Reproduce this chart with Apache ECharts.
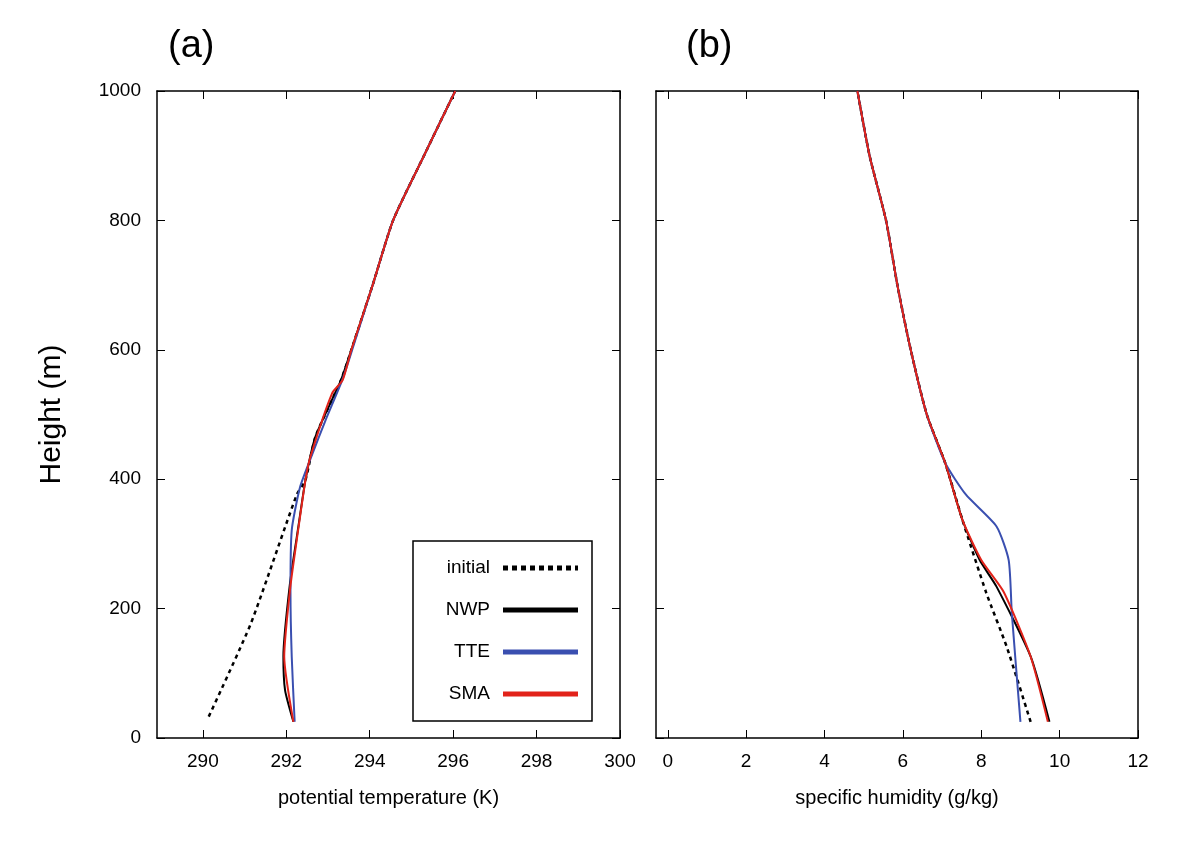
<!DOCTYPE html>
<html style="height: 100%">
<head>
<meta charset="utf-8">
<script src="https://cdn.jsdelivr.net/npm/echarts@6/dist/echarts.min.js"></script>
</head>
<body style="height: 100%; margin: 0; background: #fff">
<div id="container" style="width: 1200px; height: 857px"></div>
<script type="text/javascript">
// heights (m) for each profile, paired with values
var thInitH = [33, 177, 376, 399, 466, 553, 600, 700, 800, 900, 1000];
var thInit  = [290.14, 291.15, 292.25, 292.46, 292.7, 293.31, 293.56, 294.07, 294.56, 295.3, 296.05];
var thNwpH = [25, 74, 126, 240, 327, 399, 466, 553, 600, 700, 800, 900, 1000];
var thNwp  = [292.17, 291.97, 291.93, 292.09, 292.29, 292.46, 292.7, 293.31, 293.56, 294.07, 294.56, 295.3, 296.05];
var thTteH = [25, 126, 225, 321, 388, 435, 491, 553, 600, 700, 800, 900, 1000];
var thTte  = [292.2, 292.13, 292.1, 292.13, 292.33, 292.6, 292.94, 293.34, 293.58, 294.07, 294.56, 295.3, 296.05];
var thSmaH = [25, 126, 230, 306, 399, 435, 533, 553, 600, 700, 800, 900, 1000];
var thSma  = [292.17, 291.95, 292.09, 292.25, 292.46, 292.58, 293.1, 293.35, 293.56, 294.07, 294.56, 295.3, 296.05];

var qInitH = [25, 141, 224, 337, 425, 500, 600, 700, 800, 900, 1000];
var qInit  = [9.26, 8.65, 8.13, 7.52, 7.08, 6.61, 6.2, 5.86, 5.57, 5.15, 4.84];
var qNwpH = [25, 126, 234, 275, 337, 425, 500, 600, 700, 800, 900, 1000];
var qNwp  = [9.74, 9.26, 8.39, 7.96, 7.52, 7.08, 6.61, 6.2, 5.86, 5.57, 5.15, 4.84];
var qTteH = [25, 193, 275, 327, 376, 425, 500, 600, 700, 800, 900, 1000];
var qTte  = [9.0, 8.78, 8.70, 8.39, 7.61, 7.08, 6.61, 6.2, 5.86, 5.57, 5.15, 4.84];
var qSmaH = [25, 126, 226, 275, 337, 425, 500, 600, 700, 800, 900, 1000];
var qSma  = [9.7, 9.26, 8.57, 8.0, 7.52, 7.08, 6.61, 6.2, 5.86, 5.57, 5.15, 4.84];

var thTicks = [290, 292, 294, 296, 298, 300];
var qTicks = [0, 2, 4, 6, 8, 10, 12];

var names = ['initial', 'NWP', 'TTE', 'SMA'];
var colors = ['#000000', '#000000', '#3a4fb0', '#e2231a'];

function pairs(xs, hs) { return xs.map(function (v, i) { return [v, hs[i]]; }); }

var dom = document.getElementById('container');
var myChart = echarts.init(dom);

var font = { color: '#000', fontFamily: 'Liberation Sans', fontSize: 19 };
function xAx(idx, min, max, ticks, name) {
    return [{
        type: 'value', gridIndex: idx, min: min, max: max,
        name: name, nameLocation: 'middle', nameGap: 50,
        nameTextStyle: { color: '#000', fontFamily: 'Liberation Sans', fontSize: 20 },
        axisLine: { onZero: false, lineStyle: { color: '#000', width: 1.5 } },
        axisTick: { inside: true, length: 8, customValues: ticks, lineStyle: { color: '#000' } },
        axisLabel: Object.assign({ margin: 14, customValues: ticks }, font),
        splitLine: { show: false }
    }, {
        type: 'value', gridIndex: idx, position: 'top', min: min, max: max,
        axisLine: { onZero: false, lineStyle: { color: '#000', width: 1.5 } },
        axisTick: { inside: true, length: 8, customValues: ticks, lineStyle: { color: '#000' } },
        axisLabel: { show: false }, splitLine: { show: false }
    }];
}
function yAx(idx) {
    return [{
        type: 'value', gridIndex: idx, min: 0, max: 1000, interval: 200,
        name: idx === 0 ? 'Height (m)' : '', nameLocation: 'middle', nameGap: 90,
        nameTextStyle: { color: '#000', fontFamily: 'Liberation Sans', fontSize: 30 },
        axisLine: { onZero: false, lineStyle: { color: '#000', width: 1.5 } },
        axisTick: { inside: true, length: 8, lineStyle: { color: '#000' } },
        axisLabel: Object.assign({ show: idx === 0, margin: 16, formatter: function (v) { return String(v); } }, font),
        splitLine: { show: false }
    }, {
        type: 'value', gridIndex: idx, position: 'right', min: 0, max: 1000, interval: 200,
        axisLine: { onZero: false, lineStyle: { color: '#000', width: 1.5 } },
        axisTick: { inside: true, length: 8, lineStyle: { color: '#000' } },
        axisLabel: { show: false }, splitLine: { show: false }
    }];
}

var data = [
    [pairs(thInit, thInitH), pairs(thNwp, thNwpH), pairs(thTte, thTteH), pairs(thSma, thSmaH)],
    [pairs(qInit, qInitH), pairs(qNwp, qNwpH), pairs(qTte, qTteH), pairs(qSma, qSmaH)]
];
var series = [];
[0, 1].forEach(function (g) {
    names.forEach(function (n, i) {
        series.push({
            name: n, type: 'line', xAxisIndex: g * 2, yAxisIndex: g * 2,
            data: data[g][i], showSymbol: false, animation: false, smooth: 0.2,
            lineStyle: { color: colors[i], width: i === 0 ? 2.5 : 2, type: i === 0 ? [4, 4] : 'solid' },
            z: i === 0 ? 2 : 3 + i
        });
    });
});

// hand-drawn legend box inside panel (a)
var legendEls = [{
    type: 'rect', shape: { x: 413, y: 541, width: 179, height: 180 },
    style: { fill: '#fff', stroke: '#000', lineWidth: 1.5 }, z: 100
}];
names.forEach(function (n, i) {
    var y = 568 + i * 42;
    legendEls.push({ type: 'text', x: 490, y: y, z: 101,
        style: { text: n, fill: '#000', font: '19px "Liberation Sans"', align: 'right', verticalAlign: 'middle' } });
    legendEls.push({ type: 'line', z: 101, shape: { x1: 503, y1: y, x2: 578, y2: y },
        style: { stroke: colors[i], lineWidth: 5, lineDash: i === 0 ? [5, 4] : null } });
});
legendEls.push({ type: 'text', x: 168, y: 28, style: { text: '(a)', fill: '#000', font: '38px "Liberation Sans"' } });
legendEls.push({ type: 'text', x: 686, y: 28, style: { text: '(b)', fill: '#000', font: '38px "Liberation Sans"' } });

var option = {
    backgroundColor: '#fff',
    grid: [
        { left: 157, top: 91, width: 463, height: 647 },
        { left: 656, top: 91, width: 482, height: 647 }
    ],
    xAxis: xAx(0, 288.9, 300, thTicks, 'potential temperature (K)').concat(xAx(1, -0.3, 12, qTicks, 'specific humidity (g/kg)')),
    yAxis: yAx(0).concat(yAx(1)),
    series: series,
    graphic: legendEls
};
myChart.setOption(option);
</script>
</body>
</html>
